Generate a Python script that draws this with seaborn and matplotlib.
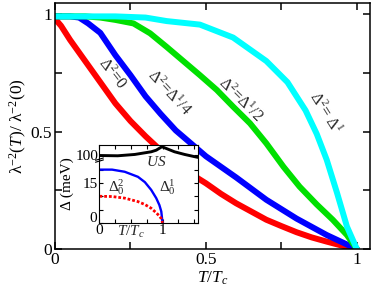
import matplotlib
matplotlib.use('Agg')
import matplotlib.pyplot as plt
import seaborn as sns
import numpy as np
from matplotlib.ticker import MultipleLocator, FixedLocator

# main panel: superfluid density vs T/Tc
t_red = [0, 0.02, 0.05, 0.1, 0.15, 0.2, 0.25, 0.3, 0.35, 0.4, 0.45, 0.5, 0.55, 0.6, 0.65,
         0.7, 0.75, 0.8, 0.85, 0.9, 0.95, 1.0]
rho_red = [0.98, 0.95, 0.89, 0.80, 0.71, 0.62, 0.545, 0.48, 0.42, 0.37, 0.32, 0.28, 0.235,
           0.195, 0.16, 0.125, 0.098, 0.072, 0.05, 0.032, 0.015, 0.0]
t_blue = [0, 0.05, 0.08, 0.11, 0.15, 0.2, 0.25, 0.3, 0.35, 0.4, 0.45, 0.5, 0.55, 0.6, 0.7,
          0.8, 0.9, 0.95, 1.0]
rho_blue = [0.99, 0.99, 0.985, 0.96, 0.92, 0.825, 0.74, 0.65, 0.575, 0.505, 0.45, 0.395,
            0.35, 0.305, 0.21, 0.13, 0.06, 0.03, 0.0]
t_green = [0, 0.1, 0.15, 0.2, 0.26, 0.315, 0.37, 0.425, 0.48, 0.536, 0.59, 0.646, 0.70,
           0.757, 0.81, 0.867, 0.92, 0.967, 1.0]
rho_green = [0.99, 0.99, 0.985, 0.975, 0.96, 0.918, 0.86, 0.80, 0.74, 0.677, 0.606, 0.535,
             0.45, 0.35, 0.266, 0.19, 0.125, 0.06, 0.0]
t_cyan = [0, 0.2, 0.3, 0.37, 0.48, 0.59, 0.70, 0.77, 0.83, 0.867, 0.90, 0.934, 0.967, 1.0]
rho_cyan = [0.99, 0.99, 0.985, 0.97, 0.955, 0.90, 0.80, 0.71, 0.59, 0.49, 0.38, 0.24, 0.096, 0.0]

# inset: gaps vs T/Tc
t_us = [0, 0.29, 0.56, 0.82, 0.9, 0.99, 1.19, 1.35, 1.56]
gap_us = [25.3, 25.2, 25.7, 26.7, 27.3, 28.6, 26.7, 25.7, 24.6]
t_gap = [0, 0.2, 0.4, 0.61, 0.72, 0.82, 0.9, 0.95, 0.98, 1.0]
gap1 = [20.0, 20.0, 19.2, 17.3, 15.3, 12.4, 9.3, 6.7, 4.3, 0.0]
gap2 = [10.0, 9.9, 9.3, 8.0, 6.9, 5.5, 3.8, 2.6, 1.6, 0.0]

sns.set_theme(style='ticks')
plt.rcParams['font.family'] = ['Liberation Serif', 'DejaVu Serif']
plt.rcParams['mathtext.fontset'] = 'custom'
plt.rcParams['mathtext.rm'] = 'Liberation Serif'
plt.rcParams['mathtext.it'] = 'Liberation Serif:italic'
plt.rcParams['lines.solid_joinstyle'] = 'round'

fig = plt.figure(figsize=(3.74, 2.98), dpi=100)
ax = fig.add_axes([0.147, 0.164, 0.842, 0.826])

lw = 4.3
sns.lineplot(ax=ax, x=t_red, y=rho_red, color='#ff0000', lw=lw)
sns.lineplot(ax=ax, x=t_blue, y=rho_blue, color='#0000ff', lw=lw)
sns.lineplot(ax=ax, x=t_green, y=rho_green, color='#00e000', lw=lw)
sns.lineplot(ax=ax, x=t_cyan, y=rho_cyan, color='#00ffff', lw=lw)

ax.set_xlim(0, 1.043)
ax.set_ylim(0, 1.047)
ax.xaxis.set_major_locator(FixedLocator([0, 0.5, 1]))
ax.yaxis.set_major_locator(FixedLocator([0, 0.5, 1]))
ax.set_xticklabels(['0', '0.5', '1'])
ax.set_yticklabels(['0', '0.5', '1'])
ax.xaxis.set_minor_locator(FixedLocator([0.25, 0.75]))
ax.yaxis.set_minor_locator(FixedLocator([0.25, 0.75]))
ax.tick_params(which='both', direction='in', top=True, right=True, length=5, width=1.1,
               labelsize=12.5, pad=2, color='black', labelcolor='black')
for s in ax.spines.values():
    s.set_linewidth(1.1)
    s.set_color('black')
ax.set_xlabel(r'$T/T_c$', fontsize=12.5, labelpad=1, color='black')
ax.set_ylabel(r'λ$^{-2}$($T$)/ λ$^{-2}$(0)', fontsize=12.5, labelpad=1, color='black')

fs = 11.5
ax.text(0.188, 0.748, 'Δ$^2$=0', rotation=-52, ha='center', va='center', fontsize=fs)
ax.text(0.376, 0.663, 'Δ$^2$=Δ$^1$/4', rotation=-47, ha='center', va='center', fontsize=fs)
ax.text(0.613, 0.635, 'Δ$^2$=Δ$^1$/2', rotation=-45, ha='center', va='center', fontsize=fs)
ax.text(0.895, 0.578, 'Δ$^2$= Δ$^1$', rotation=-58, ha='center', va='center', fontsize=fs)

# inset
axi = fig.add_axes([0.266, 0.252, 0.263, 0.261])
sns.lineplot(ax=axi, x=t_us, y=gap_us, color='black', lw=2.1)
sns.lineplot(ax=axi, x=t_gap, y=gap1, color='#0000ff', lw=1.7)
sns.lineplot(ax=axi, x=t_gap, y=gap2, color='#ff0000', lw=2.0, linestyle=(0, (1, 0.7)))
axi.set_xlim(0, 1.56)
axi.set_ylim(0, 29.2)
axi.xaxis.set_major_locator(FixedLocator([0, 1]))
axi.set_xticklabels(['0', '1'])
axi.xaxis.set_minor_locator(MultipleLocator(0.25))
axi.yaxis.set_major_locator(FixedLocator([0, 15, 25.5]))
axi.set_yticklabels(['', '15', '100'])
axi.yaxis.set_minor_locator(FixedLocator([5, 10, 20]))
axi.tick_params(which='both', direction='in', top=True, right=True, length=3, width=0.8,
                labelsize=11, pad=1, color='black', labelcolor='black')
for s in axi.spines.values():
    s.set_linewidth(0.8)
    s.set_color('black')
axi.set_ylabel('Δ (meV)', fontsize=11, labelpad=1, color='black')
# y "0" sits a little above the corner so it clears the x "0"
fig.text(0.266 - 0.006, 0.252 + 0.014, '0', ha='right', va='center', fontsize=11,
         color='black', zorder=10)
axi.text(0.32, -0.12, r'$T/T_c$', transform=axi.transAxes, ha='center', va='center', fontsize=11)
axi.text(0.9, 22.9, r'$US$', ha='center', va='center', fontsize=11)
axi.text(0.27, 13.3, 'Δ$^2_0$', ha='center', va='center', fontsize=11)
axi.text(1.08, 13.3, 'Δ$^1_0$', ha='center', va='center', fontsize=11)
# axis break mark
for dy in (0.0, 0.025):
    axi.plot([-0.04, 0.04], [0.78 + dy, 0.81 + dy], transform=axi.transAxes, color='black',
             lw=0.8, clip_on=False)

fig.savefig('out.png', dpi=100)
